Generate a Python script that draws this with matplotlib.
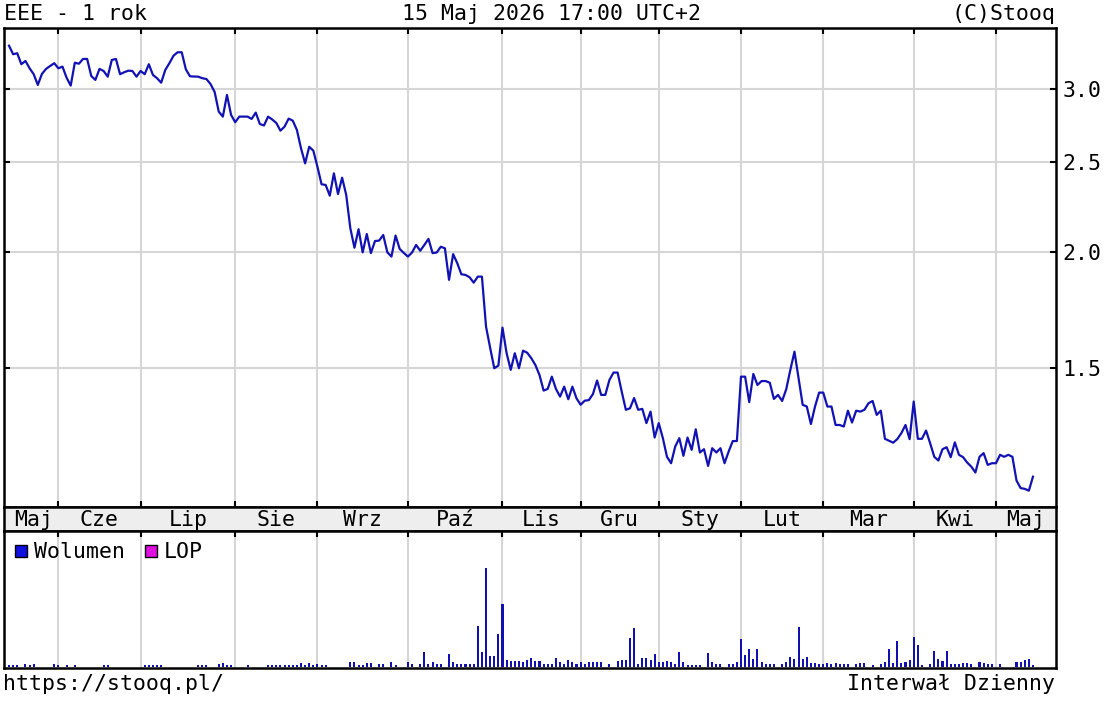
import matplotlib
matplotlib.use('Agg')
import matplotlib.pyplot as plt
from matplotlib.patches import Rectangle
from matplotlib.ticker import FixedLocator, NullLocator, FormatStrFormatter
import numpy as np

plt.rcParams['font.family'] = 'DejaVu Sans Mono'

# trading days per month, May 2025 .. May 2026
month_names = ['Maj', 'Cze', 'Lip', 'Sie', 'Wrz', 'Paź', 'Lis',
               'Gru', 'Sty', 'Lut', 'Mar', 'Kwi', 'Maj']
month_days = [12, 20, 23, 20, 22, 23, 19, 19, 20, 20, 22, 20, 10]

# daily close
prices = [
    3.340, 3.270, 3.278, 3.190, 3.216, 3.158, 3.112, 3.030, 3.114, 3.153,
    3.176, 3.198, 3.158, 3.171, 3.085, 3.025, 3.202, 3.194, 3.232, 3.232,
    3.098, 3.068, 3.153, 3.137, 3.093, 3.224, 3.232, 3.112, 3.127, 3.139,
    3.137, 3.093, 3.137, 3.112, 3.190, 3.106, 3.081, 3.047, 3.145, 3.198,
    3.258, 3.286, 3.286, 3.150, 3.096, 3.094, 3.093, 3.081, 3.075, 3.037,
    2.978, 2.836, 2.801, 2.956, 2.813, 2.762, 2.801, 2.801, 2.801, 2.785,
    2.829, 2.750, 2.740, 2.801, 2.781, 2.757, 2.705, 2.732, 2.787, 2.773,
    2.710, 2.590, 2.494, 2.599, 2.574, 2.473, 2.368, 2.364, 2.302, 2.433,
    2.311, 2.407, 2.306, 2.123, 2.023, 2.118, 2.000, 2.093, 1.996, 2.057,
    2.059, 2.088, 2.000, 1.979, 2.085, 2.017, 1.997, 1.979, 1.999, 2.037,
    2.008, 2.037, 2.068, 1.996, 1.999, 2.028, 2.020, 1.868, 1.991, 1.947,
    1.894, 1.891, 1.880, 1.855, 1.883, 1.883, 1.663, 1.578, 1.500, 1.510,
    1.659, 1.557, 1.494, 1.557, 1.500, 1.567, 1.559, 1.538, 1.512, 1.475,
    1.419, 1.425, 1.469, 1.425, 1.398, 1.433, 1.389, 1.433, 1.392, 1.370,
    1.384, 1.386, 1.407, 1.455, 1.404, 1.404, 1.457, 1.484, 1.484, 1.415,
    1.353, 1.358, 1.393, 1.353, 1.356, 1.309, 1.347, 1.263, 1.309, 1.261,
    1.204, 1.185, 1.235, 1.261, 1.207, 1.263, 1.225, 1.289, 1.217, 1.227,
    1.177, 1.230, 1.217, 1.230, 1.185, 1.220, 1.252, 1.252, 1.469, 1.469,
    1.379, 1.479, 1.439, 1.453, 1.453, 1.447, 1.390, 1.404, 1.383, 1.424,
    1.494, 1.563, 1.464, 1.370, 1.364, 1.306, 1.364, 1.412, 1.412, 1.364,
    1.364, 1.303, 1.303, 1.298, 1.350, 1.311, 1.350, 1.347, 1.353, 1.375,
    1.383, 1.336, 1.350, 1.259, 1.253, 1.247, 1.258, 1.277, 1.303, 1.258,
    1.381, 1.259, 1.259, 1.285, 1.245, 1.204, 1.193, 1.227, 1.233, 1.203,
    1.248, 1.210, 1.203, 1.187, 1.175, 1.158, 1.204, 1.215, 1.180, 1.185,
    1.185, 1.210, 1.204, 1.210, 1.204, 1.135, 1.114, 1.112, 1.107, 1.146,
]

# daily volume (relative units)
volume = [
    1.7, 1.7, 1.7, 0, 3, 1.7, 3, 0, 0, 0,
    0, 3, 1.7, 0, 1.7, 0, 1.7, 0, 0, 0,
    0, 0, 0, 1.7, 1.7, 0, 0, 0, 0, 0,
    0, 0, 0, 1.7, 1.7, 1.7, 1.7, 1.7, 0, 0,
    0, 0, 0, 0, 0, 0, 1.7, 1.7, 1.7, 0,
    0, 3, 4, 1.7, 1.7, 0, 0, 0, 1.7, 0,
    0, 0, 0, 1.7, 1.7, 1.7, 1.7, 1.7, 1.7, 1.7,
    1.7, 3.5, 1.7, 3.5, 1.7, 3, 1.7, 1.7, 0, 0,
    0, 0, 0, 5, 4.3, 1.7, 1.7, 3.3, 4, 0,
    2.7, 2.7, 0, 4.3, 1.7, 0, 0, 5, 2.7, 0,
    2.7, 15, 2.7, 4.3, 2.7, 2.7, 0, 12.7, 5, 2.7,
    2.7, 2.7, 2.7, 2.7, 40.7, 15, 98.3, 10.7, 10.7, 32.7,
    62.7, 6.7, 6, 6, 6, 4.3, 6.7, 8.3, 6, 6,
    2.7, 2.7, 2.7, 8.3, 4.3, 2.7, 6.7, 4.3, 2.7, 4.3,
    2.7, 4.3, 4.3, 4.3, 4.3, 0, 2.7, 0, 6, 6.7,
    6.7, 28.3, 38.3, 2.7, 8.3, 8.3, 6.7, 12.7, 4.3, 5,
    6, 5, 2.7, 15, 4.3, 1.7, 1.7, 1.7, 1.7, 0,
    14, 5, 2.3, 2.3, 0, 2.3, 2.3, 5, 28, 11.7,
    17.3, 8, 17.3, 5, 2.3, 2.3, 2.3, 0, 2.3, 5,
    9.3, 8, 39.7, 8, 9.7, 4, 3.3, 2.3, 2.3, 3.3,
    2.3, 3.3, 2.3, 2.3, 2.3, 0, 2.3, 3.3, 4, 0,
    1.7, 0, 2.3, 5, 18, 4, 25.7, 4, 5, 6.3,
    29.7, 21.7, 1.3, 0, 2.3, 15.7, 8, 5.7, 15.7, 2.3,
    2.3, 2.3, 3.3, 3.3, 2.3, 0, 5, 3.3, 2.3, 2.3,
    0, 2.3, 0, 0, 0, 5, 5, 6.3, 8, 1.7,
]

price_ticks = [1.5, 2.0, 2.5, 3.0]

LINE = '#1212b4'
GRID = '#d6d6d6'
FS = 15.5

W, H = 1104, 705


def fx(px):
    return px / W


def fy(py):
    return 1 - py / H


x = np.arange(len(prices))
starts = np.cumsum([0] + month_days)
month_start = starts[1:-1]
xmin, xmax = -1.22, 254.6
edges = np.concatenate([[0], month_start, [xmax]])
label_pos = (edges[:-1] + edges[1:]) / 2

fig = plt.figure(figsize=(11.04, 7.05), dpi=100)
ax = fig.add_axes([fx(4), fy(507), fx(1056) - fx(4), fy(28) - fy(507)])
band = fig.add_axes([fx(4), fy(531), fx(1056) - fx(4), fy(507) - fy(531)])
axv = fig.add_axes([fx(4), fy(668), fx(1056) - fx(4), fy(531) - fy(668)])

# price panel
ax.plot(x, prices, color=LINE, lw=1.6)
ax.set_yscale('log')
ax.set_ylim(1.063, 3.49)
ax.set_xlim(xmin, xmax)
ax.yaxis.set_major_locator(FixedLocator(price_ticks))
ax.yaxis.set_minor_locator(NullLocator())
ax.yaxis.set_major_formatter(FormatStrFormatter('%.1f'))
ax.set_xticks(month_start)
ax.set_xticklabels([])
ax.set_axisbelow(True)
ax.grid(True, color=GRID, lw=1.5)
ax.tick_params(axis='both', direction='in', length=4.5, width=1.5,
               top=True, bottom=True, left=True, right=True,
               labelleft=False, labelright=True, labelbottom=False,
               labelsize=FS, pad=4.5)

# month band
band.set_facecolor('#eeeeee')
band.set_xlim(xmin, xmax)
band.set_ylim(0, 1)
band.set_xticks([])
band.set_yticks([])
for pos, name in zip(label_pos, month_names):
    band.text(pos, (531 - 526) / 24, name, ha='center', va='baseline', fontsize=FS)

# volume panel
axv.bar(x, volume, width=0.5, color='#1010b0')
axv.set_xlim(xmin, xmax)
axv.set_ylim(-1.3, 135)
axv.set_xticks(month_start)
axv.set_xticklabels([])
axv.set_yticks([])
axv.set_axisbelow(True)
axv.grid(True, axis='x', color=GRID, lw=1.5)
axv.tick_params(axis='x', direction='in', length=4.5, width=1.5,
                top=True, bottom=False, labelbottom=False)

for a in (ax, band, axv):
    for s in a.spines.values():
        s.set_linewidth(1.8)
        s.set_color('black')

# legend of the volume panel
fig.patches.append(Rectangle((fx(15), fy(556.5)), 11.5 / W, 11.5 / H,
                             facecolor='#1010e0', edgecolor='black', lw=1,
                             transform=fig.transFigure))
fig.text(fx(34), fy(558), 'Wolumen', fontsize=FS, va='baseline')
fig.patches.append(Rectangle((fx(145), fy(556.5)), 11.5 / W, 11.5 / H,
                             facecolor='#e010e0', edgecolor='black', lw=1,
                             transform=fig.transFigure))
fig.text(fx(164), fy(558), 'LOP', fontsize=FS, va='baseline')

# header and footer
fig.text(fx(4), fy(20), 'EEE - 1 rok', fontsize=FS, va='baseline')
fig.text(fx(551), fy(20), '15 Maj 2026 17:00 UTC+2', fontsize=FS,
         va='baseline', ha='center')
fig.text(fx(1055), fy(20), '(C)Stooq', fontsize=FS, va='baseline', ha='right')
fig.text(fx(3), fy(690), 'https://stooq.pl/', fontsize=FS, va='baseline')
fig.text(fx(1055), fy(690), 'Interwał Dzienny', fontsize=FS,
         va='baseline', ha='right')

fig.savefig('out.png', dpi=100)
